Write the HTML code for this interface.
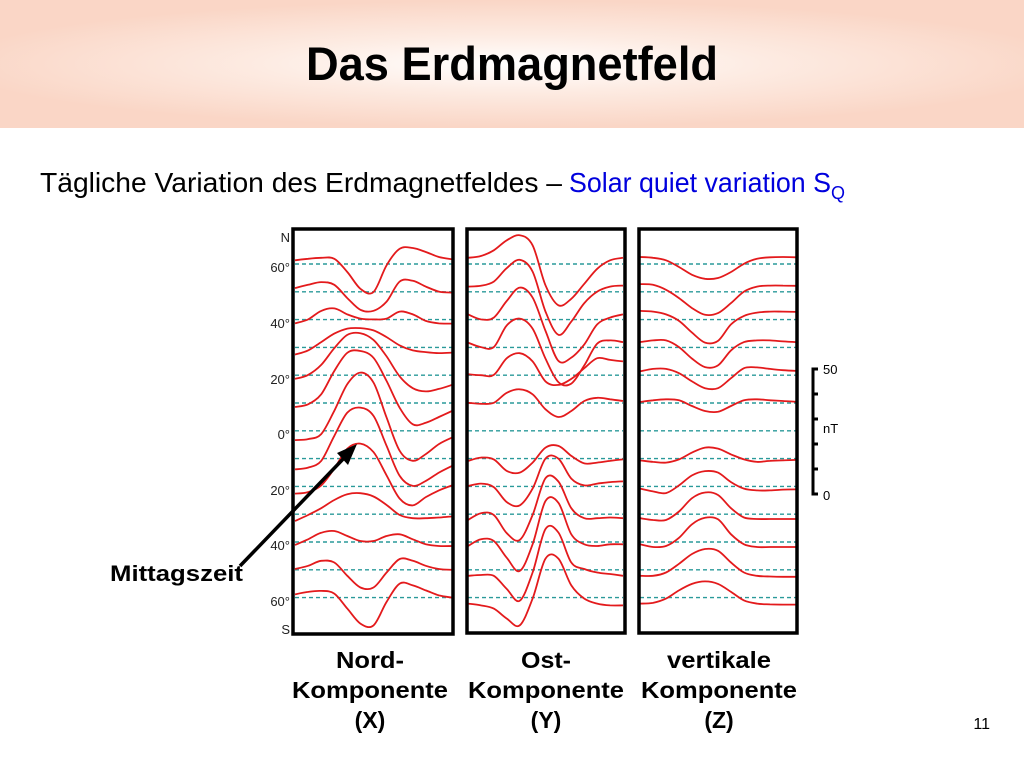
<!DOCTYPE html>
<html><head><meta charset="utf-8"><style>
html,body{margin:0;padding:0;background:#fff;width:1024px;height:768px;overflow:hidden}
svg{display:block}
text{font-family:"Liberation Sans",sans-serif}
</style></head><body>
<svg id="chart" width="1024" height="768" viewBox="0 0 1024 768">
<defs>
<radialGradient id="hg" cx="0.5" cy="0.5" r="0.55" gradientTransform="translate(0.5 0.5) scale(1 0.9) translate(-0.5 -0.5)">
<stop offset="0" stop-color="#ffffff"/><stop offset="0.45" stop-color="#fdebe2"/><stop offset="1" stop-color="#fad6c6"/>
</radialGradient>
</defs>
<rect x="0" y="0" width="1024" height="128" fill="url(#hg)"/>
<text x="512" y="80" text-anchor="middle" font-size="47" font-weight="bold" textLength="412" lengthAdjust="spacingAndGlyphs">Das Erdmagnetfeld</text>
<text x="40" y="192" font-size="28"><tspan textLength="522" lengthAdjust="spacingAndGlyphs">Tägliche Variation des Erdmagnetfeldes –</tspan><tspan fill="#0000dd" dx="7" textLength="262" lengthAdjust="spacingAndGlyphs">Solar quiet variation S</tspan><tspan fill="#0000dd" font-size="18" dy="7">Q</tspan></text>
<g id="panels"></g>
<g id="latlabels" font-size="13" fill="#222" text-anchor="end"></g>
<g stroke="#000" stroke-width="3" fill="none">
<path d="M818 369 H813 V494 H818 M813 394 H818 M813 419 H818 M813 444 H818 M813 469 H818"/>
</g>
<text x="823" y="374" font-size="13">50</text>
<text x="823" y="433" font-size="13">nT</text>
<text x="823" y="500" font-size="13">0</text>
<g>
<line x1="240" y1="566" x2="346" y2="456" stroke="#000" stroke-width="3.5"/>
<polygon points="357,444 337,453 348,465" fill="#000"/>
</g>
<text x="110" y="581" font-size="22" font-weight="bold" textLength="133" lengthAdjust="spacingAndGlyphs">Mittagszeit</text>
<g font-size="23" font-weight="bold" text-anchor="middle">
<text><tspan x="370" y="668" textLength="68" lengthAdjust="spacingAndGlyphs">Nord-</tspan><tspan x="370" y="698" textLength="156" lengthAdjust="spacingAndGlyphs">Komponente</tspan><tspan x="370" y="728">(X)</tspan></text>
<text><tspan x="546" y="668" textLength="50" lengthAdjust="spacingAndGlyphs">Ost-</tspan><tspan x="546" y="698" textLength="156" lengthAdjust="spacingAndGlyphs">Komponente</tspan><tspan x="546" y="728">(Y)</tspan></text>
<text><tspan x="719" y="668" textLength="104" lengthAdjust="spacingAndGlyphs">vertikale</tspan><tspan x="719" y="698" textLength="156" lengthAdjust="spacingAndGlyphs">Komponente</tspan><tspan x="719" y="728">(Z)</tspan></text>
</g>
<text x="990" y="729" font-size="16" text-anchor="end">11</text>
</svg>
<script>
// local time (hours) sample points
const hours = [0,2,4,6,8,10,12,14,16,18,20,22,24];
// latitude rows (one per dashed baseline), N to S
const rowLats = ["60N","50N","40N","30N","20N","10N","0","10S","20S","30S","40S","50S","60S"];
const latLabels = ["N","60°","40°","20°","0°","20°","40°","60°","S"];
const latLabelY = [237,267,323,379,434,490,545,601,629];
// X component (nT offset from baseline, positive = up)
const seriesX = [
[1.5,2.1,2.5,2.1,-3.2,-9.9,-11.2,-0.5,6.1,6.4,4.8,2.8,1.9],
[1.5,2.8,3.9,2.8,-2.5,-7.2,-7.6,-3.9,4.1,4.4,2.1,0.1,-0.3],
[-1.5,0.1,3.5,4.5,2.1,0.4,0.1,0.4,3.2,2.1,-0.5,-1.5,-1.6],
[-2.9,-1.2,2.1,5.5,7.5,7.7,6.8,4.1,0.8,-1.2,-1.9,-2.3,-2.1],
[-1.5,0.1,4.1,10.8,16.1,16.8,14.1,7.5,-0.5,-5.2,-6.5,-5.5,-3.9],
[-1.6,-0.5,3.5,12.8,20.1,20.8,18.1,8.8,-1.9,-8.5,-7.9,-5.6,-3.2],
[-3.7,-3.3,-1.3,8,18.7,23.3,19.3,5.3,-8,-12,-9.3,-5.3,-2.7],
[-4.3,-3.6,-0.9,9.1,18.4,20.4,17.1,5.1,-6.9,-10.9,-8.9,-5.6,-2.9],
[-2.9,-2.3,0.4,7.1,15.1,17.1,13.7,4.4,-4.9,-7.6,-4.3,-1.6,0.4],
[-2.7,-0.3,2.4,5.7,8,8.4,7.1,3.7,-0.3,-1.6,-1.6,-1.3,-0.9],
[-1.2,1.1,3.7,4.4,2.4,0.4,0.4,2.4,3.1,1.1,-0.9,-1.6,-1.6],
[0.3,1.6,3.6,2.9,-2.4,-7.1,-7.1,-1.1,4.3,3.6,1.6,0.3,0],
[1.3,2.3,2.7,1.6,-4.4,-10.4,-11.1,-1.7,5.6,4.9,2.9,0.9,0]
];
// Y component (null = no curve)
const seriesY = [
[2.5,3.2,5.5,9.5,11.5,7.5,-8.5,-16.5,-13.9,-7.9,-1.9,1.5,2.5],
[2.1,2.4,4.1,9.5,12.8,8.1,-7.9,-17.2,-11.9,-4.5,0.1,2.1,2.5],
[2.1,0.1,0.8,7.5,12.8,8.8,-4.5,-16.5,-15.2,-9.9,-1.9,0.8,2.1],
[1.9,0.1,0.1,8.8,11.5,7.5,-4.5,-13.9,-14.5,-7.2,1.5,2.8,2.1],
[0.4,0,0.1,6.8,8.8,5.5,-2.5,-3.9,-1.5,2.8,6.8,6.1,5.5],
[0.1,-0.3,0.1,4.1,5.5,3.5,-2.5,-5.6,-3.2,0.8,2.1,1.5,0.8],
null,
[-0.9,0.4,-0.3,-4.9,-5.6,-1.6,4.4,5.1,1.1,-1.9,-1.6,-0.9,-0.3],
[0.1,1.1,-0.3,-6.3,-7.6,-0.9,11.1,11.1,3.1,0.4,1.1,1.7,2],
[-2.3,0.4,-0.3,-7.6,-10.3,-0.3,14.4,13.1,2.4,-1.6,-1.6,-1.3,-1.6],
[-1.6,1.1,0.4,-6.3,-11.6,-0.9,16.4,15.7,3.1,-0.9,-1.6,-0.9,-0.9],
[-2.4,-2.1,-2.4,-7.7,-12.4,-1.1,16.3,14.9,2.9,0.3,-1.1,-1.7,-2.4],
[-2.4,-3.1,-4.4,-8.4,-11.1,-0.4,15.6,15.6,4.9,-0.4,-2.4,-3.1,-3.1]
];
// Z component
const seriesZ = [
[2.8,2.5,1.5,-1.2,-4.3,-5.9,-5.6,-3.2,0.1,2.1,2.7,2.8,2.7],
[3.1,2.8,0.8,-2.5,-6.5,-9.2,-8.5,-4.5,0.1,2.1,2.5,2.5,2.4],
[3.5,3.2,2.1,-0.5,-5.2,-9.2,-8.5,-1.9,1.5,2.8,3.2,3.2,3.1],
[2.1,2.8,2.8,0.1,-4.5,-7.9,-7.2,-1.2,2.1,2.8,2.8,2.4,2.1],
[1.5,2.5,2.5,0.8,-2.5,-5.2,-5.2,-1.2,2.8,3.1,2.5,2,1.7],
[0.4,1.1,1.5,1.1,-1.2,-3.2,-3.5,-1.2,1.1,1.5,1.1,0.8,0.5],
null,
[-0.7,-1.3,-1.6,-0.3,2.4,4.4,4,1.7,-0.3,-1.3,-0.9,-0.7,-0.5],
[-0.9,-2,-2.7,0.4,4.4,6.1,5.5,1.7,-0.9,-1.6,-1.6,-1.3,-1.2],
[-1.6,-2.3,-2.3,1.1,6.4,8.7,7.7,2.4,-1.3,-1.9,-1.9,-1.9,-1.9],
[-0.9,-2,-1.6,1.7,7.1,9.7,9.1,3.1,-0.9,-2,-2,-2,-2],
[-2.4,-2.4,-1.1,2.4,6.3,8.3,7.6,2.9,-1.1,-2.4,-2.7,-2.8,-2.8],
[-2.4,-2.1,-0.4,2.9,5.5,6.5,5.5,2.3,-1.1,-2.4,-2.7,-2.8,-2.8]
];

const NS = "http://www.w3.org/2000/svg";
const rowY0 = 264, rowStep = 27.8;
const pxPerNT = 2.5;
function rowBase(i){ return rowY0 + i*rowStep; }
function yScale(i, v){ return rowBase(i) - v*pxPerNT; }
const panelDefs = [
  {name:"x", series:seriesX, left:295, right:452, frame:[293,229,160,405]},
  {name:"y", series:seriesY, left:468, right:623, frame:[467,229,158,404]},
  {name:"z", series:seriesZ, left:640, right:796, frame:[639,229,158,404]}
];
function smoothPath(pts){
  let d = "M"+pts[0][0].toFixed(1)+" "+pts[0][1].toFixed(1);
  for(let i=0;i<pts.length-1;i++){
    const p0=pts[Math.max(0,i-1)], p1=pts[i], p2=pts[i+1], p3=pts[Math.min(pts.length-1,i+2)];
    const c1=[p1[0]+(p2[0]-p0[0])/6, p1[1]+(p2[1]-p0[1])/6];
    const c2=[p2[0]-(p3[0]-p1[0])/6, p2[1]-(p3[1]-p1[1])/6];
    d += " C"+c1[0].toFixed(1)+" "+c1[1].toFixed(1)+" "+c2[0].toFixed(1)+" "+c2[1].toFixed(1)+" "+p2[0].toFixed(1)+" "+p2[1].toFixed(1);
  }
  return d;
}
const panelsG = document.getElementById("panels");
panelDefs.forEach(p=>{
  const g = document.createElementNS(NS,"g");
  
  
  const xScale = h => p.left + (h/24)*(p.right-p.left);
  rowLats.forEach((lat,i)=>{
    const ln = document.createElementNS(NS,"line");
    ln.setAttribute("x1", p.left); ln.setAttribute("x2", p.right);
    ln.setAttribute("y1", rowBase(i)); ln.setAttribute("y2", rowBase(i));
    ln.setAttribute("stroke","#2a9a9a"); ln.setAttribute("stroke-width","1.4");
    ln.setAttribute("stroke-dasharray","4 3");
    
    
    g.appendChild(ln);
  });
  p.series.forEach((vals,i)=>{
    if(!vals) return;
    const pts = vals.map((v,k)=>[xScale(hours[k]), yScale(i,v)]);
    const path = document.createElementNS(NS,"path");
    path.setAttribute("d", smoothPath(pts));
    path.setAttribute("fill","none"); path.setAttribute("stroke","#e31a1c"); path.setAttribute("stroke-width","1.8");
    
    
    g.appendChild(path);
  });
  const fr = document.createElementNS(NS,"rect");
  fr.setAttribute("x",p.frame[0]); fr.setAttribute("y",p.frame[1]);
  fr.setAttribute("width",p.frame[2]); fr.setAttribute("height",p.frame[3]);
  fr.setAttribute("fill","none"); fr.setAttribute("stroke","#000"); fr.setAttribute("stroke-width","3.5");
  
  
  g.appendChild(fr);
  panelsG.appendChild(g);
});
const latG = document.getElementById("latlabels");
latLabels.forEach((t,i)=>{
  const tx = document.createElementNS(NS,"text");
  tx.setAttribute("x", 290); tx.setAttribute("y", latLabelY[i]+5);
  tx.textContent = t;
  
  
  latG.appendChild(tx);
});
</script>
</body></html>
